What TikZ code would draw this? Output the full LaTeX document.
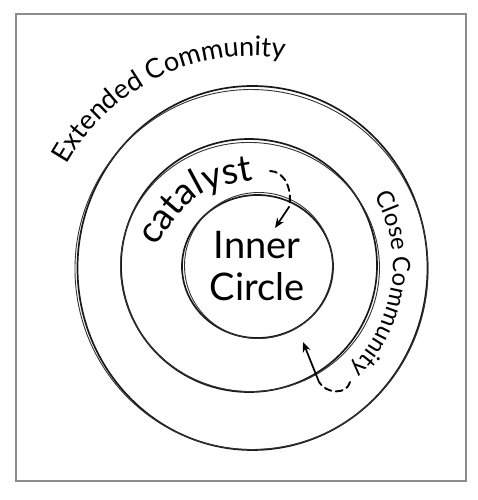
\documentclass[tikz,border=0pt]{standalone}
\usepackage{fontspec}
\setmainfont{Lato}
\usetikzlibrary{decorations.text,arrows.meta,shapes.geometric}
\begin{document}
\begin{tikzpicture}[x=1pt,y=-1pt,
  ring/.style={ellipse,draw=black!90,line width=1.7pt,inner sep=0pt,outer sep=0pt},
  ringb/.style={ellipse,draw=black!80,line width=0.9pt,inner sep=0pt,outer sep=0pt},
  dashline/.style={line width=1.9pt,dash pattern=on 7pt off 4.5pt,line cap=round},
  arrowline/.style={line width=1.7pt,-{Stealth[length=10pt,width=8pt]}},
  curvedtext/.style={decorate,decoration={text along path,text align=center,text={#1}}}]
\useasboundingbox (0,0) rectangle (478,500);
\node[draw=black!45,line width=1.1pt,minimum width=450pt,minimum height=467pt,inner sep=0pt] (frame) at (241,247.5) {};
% outer ring
\node[ring,minimum width=350pt,minimum height=364pt] (outer) at (252.5,268) {};
\node[ringb,minimum width=353pt,minimum height=360pt,rotate=4] (outerb) at (251.5,269.5) {};
% middle ring
\node[ring,minimum width=256pt,minimum height=253pt] (middle) at (249,265.5) {};
\node[ringb,minimum width=259pt,minimum height=249pt,rotate=-5] (middleb) at (250,267) {};
% inner ring
\node[ring,minimum width=151pt,minimum height=143pt] (innerc) at (257.5,266.5) {};
\node[ringb,minimum width=148pt,minimum height=146pt,rotate=6] (innercb) at (258.5,265.5) {};
% labels
\node[align=center,font=\fontsize{38}{42}\selectfont] (inner) at (257,266) {Inner\\Circle};
\path[curvedtext={|\fontsize{27}{27}\selectfont|Extended Community}]
  ([shift={(252,268)}]-168:212) arc[start angle=-168,end angle=-64,radius=212];
\path[curvedtext={|\fontsize{24}{24}\selectfont|Close Community}]
  ([shift={(250,266)}]-50:143) arc[start angle=-50,end angle=66,radius=143];
\path[curvedtext={|\fontsize{37}{37}\selectfont|catalyst}]
  (149,256) .. controls (194,190) .. (264,178);
% arrows
\coordinate (a1s) at (270,171);
\coordinate (a1m) at (289,207);
\coordinate (a1t) at (275,228);
\draw[dashline] (a1s) .. controls (284,171) and (293,189) .. (a1m);
\draw[arrowline] (a1m) -- (a1t);
\coordinate (a2s) at (350,382);
\coordinate (a2m) at (319,382);
\coordinate (a2t) at (303,342);
\draw[dashline] (a2s) .. controls (347,395) and (326,394) .. (a2m);
\draw[arrowline] (a2m) -- (a2t);
\end{tikzpicture}
\end{document}
